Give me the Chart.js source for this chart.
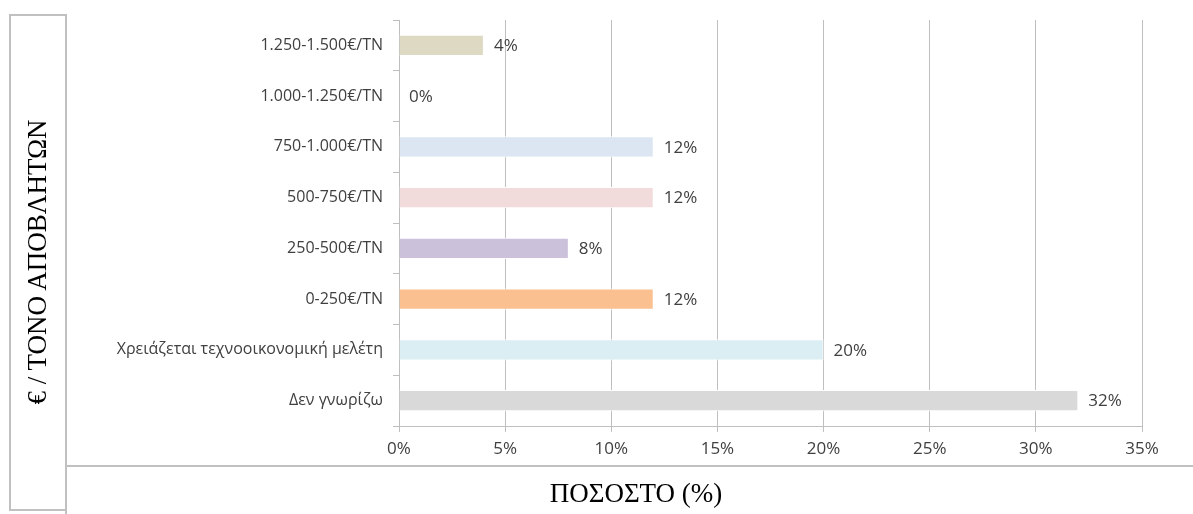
<!DOCTYPE html>
<html>
<head>
<meta charset="utf-8">
<script src="https://cdn.jsdelivr.net/npm/chart.js@4.4.1/dist/chart.umd.min.js"></script>
<style>
  html, body { margin: 0; padding: 0; background: #fff; }
  #wrap { position: relative; width: 1193px; height: 514px; overflow: hidden; }
  #myChart { position: absolute; left: 0; top: 0; }
  .box { position: absolute; border: 2px solid #c0c0c0; box-sizing: border-box; }
  #leftBox { left: 9px; top: 14px; width: 58px; height: 497px; }
  #bottomBox { left: 65px; top: 465px; width: 1140px; height: 60px; }
  .title { position: absolute; font-family: "Liberation Serif", "Times New Roman", serif; font-size: 27px; color: #000; white-space: nowrap; }
  #yTitle { left: 37px; top: 262px; transform: translate(-50%, -50%) rotate(-90deg); }
  #xTitle { left: 636px; top: 493px; transform: translate(-50%, -50%); }
</style>
</head>
<body>
<div id="wrap">
  <canvas id="myChart" width="1193" height="514"></canvas>
  <div class="box" id="leftBox"></div>
  <div class="box" id="bottomBox"></div>
  <div class="title" id="yTitle">€ / ΤΟΝΟ ΑΠΟΒΛΗΤΩΝ</div>
  <div class="title" id="xTitle">ΠΟΣΟΣΤΟ (%)</div>
</div>
<script>
// Categories, top to bottom
const categories = [
  '1.250-1.500€/TN',
  '1.000-1.250€/TN',
  '750-1.000€/TN',
  '500-750€/TN',
  '250-500€/TN',
  '0-250€/TN',
  'Χρειάζεται τεχνοοικονομική μελέτη',
  'Δεν γνωρίζω'
];

// Percentages
const percentValues = [4, 0, 12, 12, 8, 12, 20, 32];

// Bar colours
const barColors = ['#ddd9c3', '#fde9d9', '#dce6f2', '#f2dcdb', '#ccc1da', '#fac090', '#dbeef4', '#d9d9d9'];

// X axis ticks
const xTickValues = [0, 5, 10, 15, 20, 25, 30, 35];

const fontFamily = '"Open Sans", "Liberation Sans", sans-serif';

// Draw the value labels next to each bar
const valueLabels = {
  id: 'valueLabels',
  afterDatasetsDraw(chart) {
    const ctx = chart.ctx;
    const meta = chart.getDatasetMeta(0);
    ctx.save();
    ctx.font = '17px ' + fontFamily;
    ctx.fillStyle = '#404040';
    ctx.textAlign = 'left';
    ctx.textBaseline = 'middle';
    meta.data.forEach((bar, i) => {
      ctx.fillText(percentValues[i] + '%', bar.x + 10, bar.y + 1);
    });
    ctx.restore();
  }
};

const ctx = document.getElementById('myChart').getContext('2d');
const myChart = new Chart(ctx, {
  type: 'bar',
  data: {
    labels: categories,
    datasets: [{
      data: percentValues,
      backgroundColor: barColors,
      borderColor: '#ffffff',
      borderWidth: 1,
      barPercentage: 0.42,
      categoryPercentage: 1
    }]
  },
  options: {
    indexAxis: 'y',
    responsive: false,
    animation: false,
    layout: { padding: { top: 20, right: 51, bottom: 0, left: 0 } },
    scales: {
      x: {
        min: 0,
        max: 35,
        afterFit(scale) { scale.height = 88; },
        afterBuildTicks(scale) { scale.ticks = xTickValues.map(v => ({ value: v })); },
        ticks: {
          callback: v => v + '%',
          color: '#404040',
          font: { family: fontFamily, size: 17 },
          padding: 7,
          maxRotation: 0
        },
        grid: { color: '#bfbfbf', lineWidth: 1, tickLength: 6 },
        border: { color: '#bfbfbf', width: 1 }
      },
      y: {
        afterFit(scale) { scale.width = 399; },
        ticks: { color: '#404040', font: { family: fontFamily, size: 16 }, padding: 10 },
        grid: { drawOnChartArea: false, color: '#bfbfbf', tickLength: 6 },
        border: { color: '#bfbfbf', width: 1 }
      }
    },
    plugins: {
      legend: { display: false },
      tooltip: { enabled: false }
    }
  },
  plugins: [valueLabels]
});
</script>
</body>
</html>
